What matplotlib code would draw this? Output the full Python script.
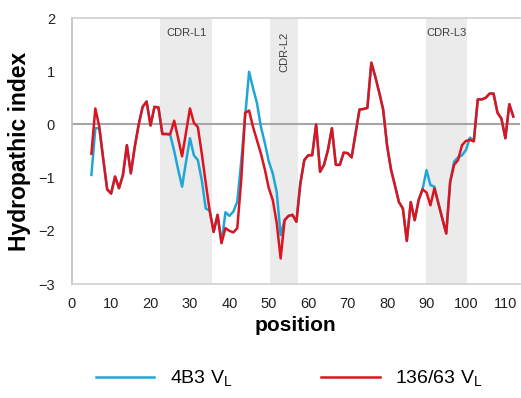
import matplotlib
matplotlib.use('Agg')
import matplotlib.pyplot as plt

plt.rcParams['font.family'] = ['Liberation Sans', 'DejaVu Sans']
plt.rcParams['mathtext.default'] = 'regular'

# residue positions
position = list(range(5, 113))

# hydropathy profile, 136/63 VL
vl_136 = [
    -0.55, 0.30, -0.04, -0.65, -1.22, -1.30, -0.98, -1.20, -0.95, -0.39,   # 5-14
    -0.92, -0.42, 0.00, 0.33, 0.43, -0.02, 0.33, 0.32, -0.18, -0.18,       # 15-24
    -0.18, 0.07, -0.26, -0.60, -0.15, 0.30, 0.03, -0.05, -0.55, -1.10,     # 25-34
    -1.62, -2.02, -1.70, -2.23, -1.95, -2.00, -2.03, -1.95, -1.05, 0.22,   # 35-44
    0.26, -0.05, -0.30, -0.55, -0.85, -1.20, -1.42, -1.85, -2.52, -1.80,   # 45-54
    -1.72, -1.70, -1.83, -1.11, -0.67, -0.58, -0.58, 0.00, -0.89, -0.76,   # 55-64
    -0.48, -0.07, -0.76, -0.76, -0.53, -0.54, -0.62, -0.17, 0.28, 0.29,    # 65-74
    0.31, 1.16, 0.90, 0.60, 0.28, -0.40, -0.85, -1.15, -1.46, -1.58,       # 75-84
    -2.19, -1.46, -1.80, -1.42, -1.22, -1.28, -1.52, -1.20, -1.48, -1.77,  # 85-94
    -2.05, -1.08, -0.76, -0.67, -0.39, -0.31, -0.29, -0.32, 0.47, 0.47,    # 95-104
    0.50, 0.58, 0.58, 0.22, 0.11, -0.26, 0.38, 0.15,                       # 105-112
]

# hydropathy profile, 4B3 VL
vl_4b3 = [
    -0.95, -0.07, -0.07, -0.65, -1.22, -1.30, -0.98, -1.20, -0.95, -0.39,  # 5-14
    -0.92, -0.42, 0.00, 0.33, 0.43, -0.02, 0.33, 0.32, -0.18, -0.18,       # 15-24
    -0.20, -0.50, -0.85, -1.17, -0.70, -0.26, -0.58, -0.67, -1.05, -1.58,  # 25-34
    -1.62, -2.02, -1.70, -2.23, -1.65, -1.72, -1.64, -1.45, -0.70, 0.15,   # 35-44
    0.99, 0.68, 0.40, -0.05, -0.35, -0.70, -0.92, -1.27, -2.08, -1.80,     # 45-54
    -1.72, -1.70, -1.83, -1.11, -0.67, -0.58, -0.58, 0.00, -0.89, -0.76,   # 55-64
    -0.48, -0.07, -0.76, -0.76, -0.53, -0.54, -0.62, -0.17, 0.28, 0.29,    # 65-74
    0.31, 1.16, 0.90, 0.60, 0.28, -0.40, -0.85, -1.15, -1.46, -1.58,       # 75-84
    -2.19, -1.46, -1.80, -1.42, -1.22, -0.86, -1.14, -1.17, -1.48, -1.77,  # 85-94
    -2.05, -1.08, -0.70, -0.62, -0.58, -0.48, -0.25, -0.30, 0.47, 0.47,    # 95-104
    0.50, 0.58, 0.58, 0.22, 0.11, -0.26, 0.38, 0.15,                       # 105-112
]

# CDR regions (start, end, label)
cdr_names = ['CDR-L1', 'CDR-L2', 'CDR-L3']
cdr_start = [22.5, 50.2, 89.9]
cdr_end = [35.6, 57.3, 100.3]

blue = '#1ea7d6'
red = '#dc1420'

fig = plt.figure(figsize=(5.21, 3.98), dpi=100)
ax = fig.add_axes([0.1376, 0.2864, 0.8604, 0.6683])

for name, a, b in zip(cdr_names, cdr_start, cdr_end):
    ax.axvspan(a, b, color='#ebebeb', lw=0, zorder=0)
    if name == 'CDR-L2':
        ax.text((a + b) / 2 + 0.1, 1.75, name, rotation=90, ha='center', va='top',
                fontsize=8, color='#404040')
    else:
        ax.text((a + b) / 2, 1.72, name, ha='center', va='center',
                fontsize=8, color='#404040')

ax.axhline(0, color='#a6a6a6', lw=1.5, zorder=1)

ax.plot(position, vl_4b3, color=blue, lw=1.8, zorder=2, label=r'4B3 V$_{L}$')
ax.plot(position, vl_136, color=red, lw=1.8, zorder=3, label=r'136/63 V$_{L}$')

ax.set_xlim(0, 113.7)
ax.set_ylim(-3, 2)
ax.set_xticks(range(0, 111, 10))
ax.set_yticks(range(-3, 3))
ax.tick_params(length=0, labelsize=10.5, colors='#222222')
ax.tick_params(axis='y', pad=12)
ax.tick_params(axis='x', pad=9)

for side in ['left', 'bottom', 'top']:
    ax.spines[side].set_color('#d0d0d0')
    ax.spines[side].set_linewidth(1.2)
ax.spines['left'].set_color('#bdbdbd')
ax.spines['right'].set_visible(False)

ax.set_xlabel('position', fontsize=15, fontweight='bold', labelpad=4)
ax.set_ylabel('Hydropathic index', fontsize=16.5, fontweight='bold', labelpad=5)

fig.legend(loc='lower center', bbox_to_anchor=(0.555, -0.02), ncol=2, frameon=False,
           fontsize=14, handlelength=3.0, columnspacing=4.6, handletextpad=0.8)

fig.savefig('out.png', dpi=100)
